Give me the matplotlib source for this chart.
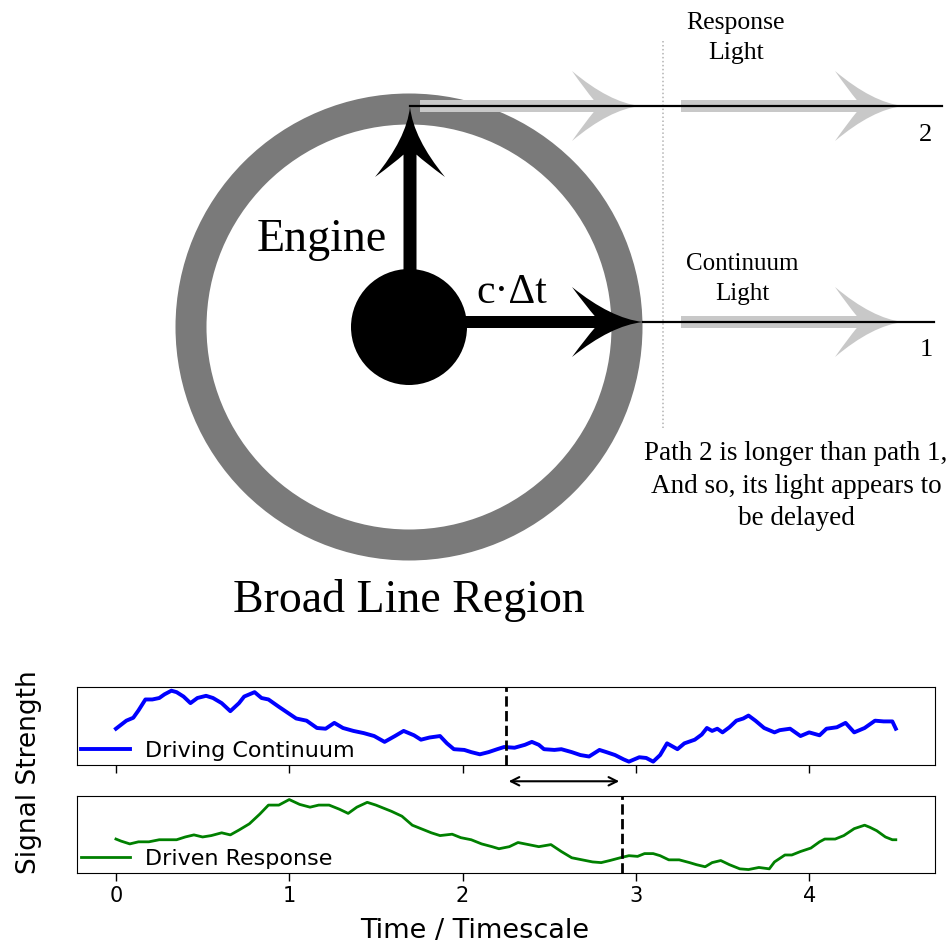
import matplotlib
matplotlib.use("Agg")
import matplotlib.pyplot as plt
import numpy as np
from matplotlib.patches import Circle, PathPatch
from matplotlib.path import Path

# driving continuum light curve (time / timescale, arbitrary flux)
cont_t = [0.00, 0.06, 0.10, 0.13, 0.17, 0.21, 0.25, 0.28, 0.32, 0.35, 0.39, 0.43, 0.47, 0.52,
          0.56, 0.61, 0.66, 0.71, 0.74, 0.80, 0.84, 0.88, 0.94, 0.99, 1.04, 1.10, 1.16, 1.21,
          1.26, 1.31, 1.37, 1.43, 1.49, 1.55, 1.61, 1.66, 1.72, 1.76, 1.81, 1.87, 1.91, 1.95,
          2.01, 2.05, 2.10, 2.15, 2.20, 2.24, 2.30, 2.36, 2.40, 2.44, 2.47, 2.53, 2.57, 2.63,
          2.68, 2.73, 2.79, 2.83, 2.88, 2.93, 2.96, 3.02, 3.06, 3.10, 3.14, 3.18, 3.24, 3.28,
          3.34, 3.38, 3.41, 3.44, 3.47, 3.50, 3.54, 3.58, 3.62, 3.65, 3.69, 3.74, 3.80, 3.83,
          3.89, 3.95, 4.00, 4.06, 4.10, 4.16, 4.21, 4.26, 4.32, 4.38, 4.43, 4.48, 4.50]
cont_f = [0.49, 0.60, 0.64, 0.74, 0.89, 0.89, 0.91, 0.96, 1.01, 0.99, 0.93, 0.84, 0.91, 0.94,
          0.91, 0.84, 0.73, 0.84, 0.93, 0.99, 0.91, 0.89, 0.79, 0.71, 0.63, 0.60, 0.50, 0.49,
          0.57, 0.50, 0.46, 0.43, 0.39, 0.31, 0.39, 0.46, 0.40, 0.34, 0.37, 0.39, 0.29, 0.21,
          0.20, 0.17, 0.14, 0.17, 0.21, 0.24, 0.23, 0.27, 0.31, 0.27, 0.21, 0.20, 0.21, 0.17,
          0.13, 0.11, 0.20, 0.17, 0.13, 0.07, 0.04, 0.10, 0.09, 0.04, 0.13, 0.29, 0.21, 0.29,
          0.34, 0.41, 0.50, 0.46, 0.49, 0.44, 0.51, 0.60, 0.63, 0.67, 0.60, 0.50, 0.44, 0.47,
          0.49, 0.39, 0.44, 0.40, 0.49, 0.51, 0.57, 0.44, 0.50, 0.60, 0.59, 0.59, 0.49]

# driven (delayed, smoothed) response
resp_t = [0.00, 0.03, 0.08, 0.13, 0.19, 0.25, 0.30, 0.35, 0.40, 0.45, 0.50, 0.55, 0.61, 0.66,
          0.71, 0.77, 0.83, 0.88, 0.94, 1.00, 1.06, 1.12, 1.17, 1.23, 1.29, 1.34, 1.39, 1.45,
          1.50, 1.59, 1.65, 1.71, 1.76, 1.82, 1.87, 1.94, 1.99, 2.05, 2.11, 2.17, 2.21, 2.27,
          2.32, 2.38, 2.44, 2.51, 2.57, 2.63, 2.69, 2.75, 2.80, 2.85, 2.91, 2.96, 3.01, 3.05,
          3.10, 3.14, 3.19, 3.25, 3.31, 3.35, 3.40, 3.44, 3.49, 3.54, 3.60, 3.65, 3.71, 3.77,
          3.80, 3.86, 3.90, 3.95, 4.01, 4.06, 4.09, 4.15, 4.20, 4.26, 4.32, 4.35, 4.39, 4.44,
          4.48, 4.50]
resp_f = [0.44, 0.41, 0.37, 0.40, 0.40, 0.43, 0.43, 0.43, 0.47, 0.50, 0.47, 0.49, 0.53, 0.50,
          0.57, 0.66, 0.80, 0.93, 0.93, 1.01, 0.94, 0.90, 0.93, 0.93, 0.87, 0.81, 0.90, 0.97,
          0.93, 0.84, 0.77, 0.64, 0.59, 0.53, 0.49, 0.51, 0.46, 0.43, 0.37, 0.33, 0.30, 0.33,
          0.39, 0.36, 0.33, 0.36, 0.26, 0.17, 0.14, 0.11, 0.10, 0.13, 0.17, 0.20, 0.19, 0.23,
          0.23, 0.20, 0.14, 0.14, 0.10, 0.07, 0.04, 0.10, 0.13, 0.07, 0.01, 0.00, 0.03, 0.01,
          0.11, 0.21, 0.21, 0.26, 0.31, 0.40, 0.44, 0.44, 0.49, 0.59, 0.64, 0.61, 0.56, 0.47,
          0.43, 0.43]

lag_start = 2.25   # marker in the continuum
lag_end = 2.92     # same feature in the response
x_ticks = [0, 1, 2, 3, 4]

serif = ["Liberation Serif", "DejaVu Serif"]
px = 0.72  # points per pixel at dpi 100


def curly_arrow(x0, y0, x1, y1, head_len, head_w, shaft_w):
    # arrow with swept-back concave head, in data coords
    d = np.array([x1 - x0, y1 - y0], float)
    n = np.hypot(*d)
    u = d / n
    v = np.array([-u[1], u[0]])
    L, W, s = head_len, head_w / 2, shaft_w / 2
    loc = [(0, 0), (-0.45 * L, 0.10 * W), (-L, W), (-0.8 * L, 0.45 * W), (-0.68 * L, s),
           (-n, s), (-n, -s), (-0.68 * L, -s), (-0.8 * L, -0.45 * W), (-L, -W),
           (-0.45 * L, -0.10 * W), (0, 0), (0, 0)]
    codes = [Path.MOVETO, Path.CURVE3, Path.CURVE3, Path.CURVE3, Path.CURVE3,
             Path.LINETO, Path.LINETO, Path.LINETO, Path.CURVE3, Path.CURVE3,
             Path.CURVE3, Path.CURVE3, Path.CLOSEPOLY]
    tip = np.array([x1, y1], float)
    pts = [tip + a * u + b * v for a, b in loc]
    return Path(pts, codes)


fig = plt.figure(figsize=(9.5, 9.47), dpi=100)

# ---- schematic (drawn in pixel units) ----
ax0 = fig.add_axes([0, 0, 1, 1])
ax0.set_xlim(0, 950)
ax0.set_ylim(947, 0)
ax0.axis("off")

cx, cy = 409, 327
ax0.add_patch(Circle((cx, cy), 218, fill=False, ec="#7a7a7a", lw=31 * px, zorder=1))
ax0.add_patch(Circle((cx, cy), 58, fc="black", ec="none", zorder=4))

light = "#c8c8c8"
for (xa, ya, xb, yb) in [(420, 106, 640, 106), (681, 106, 903, 106), (681, 322, 903, 322)]:
    ax0.add_patch(PathPatch(curly_arrow(xa, ya, xb, yb, 68, 70, 12), fc=light, ec="none", zorder=2))

# light paths
ax0.plot([410, 942], [106, 106], color="black", lw=2.2 * px, zorder=3)
ax0.plot([643, 934], [322, 322], color="black", lw=2.2 * px, zorder=3)
ax0.plot([663, 663], [41, 428], color="#b0b0b0", lw=1.5 * px, ls=":", zorder=1)

ax0.add_patch(PathPatch(curly_arrow(410, 275, 410, 107, 70, 70, 13), fc="black", ec="none", zorder=5))
ax0.add_patch(PathPatch(curly_arrow(460, 322, 643, 322, 71, 70, 12), fc="black", ec="none", zorder=5))

ax0.text(322, 240, "Engine", family=serif, fontsize=33, ha="center", va="center")
ax0.text(512, 293, "c·Δt", family=serif, fontsize=30, ha="center", va="center")
ax0.text(409, 600, "Broad Line Region", family=serif, fontsize=33, ha="center", va="center")
ax0.text(736, 38, "Response\nLight", family=serif, fontsize=18.5, ha="center", va="center",
         linespacing=1.5)
ax0.text(742, 279, "Continuum\nLight", family=serif, fontsize=18, ha="center", va="center",
         linespacing=1.5)
ax0.text(926, 135, "2", family=serif, fontsize=19, ha="center", va="center")
ax0.text(926, 350, "1", family=serif, fontsize=19, ha="center", va="center")
ax0.text(796, 486, "Path 2 is longer than path 1,\nAnd so, its light appears to\nbe delayed",
         family=serif, fontsize=19.5, ha="center", va="center", linespacing=1.4)

# ---- light curves ----
ax1 = fig.add_axes([0.081, 0.192, 0.903, 0.0824])
ax2 = fig.add_axes([0.081, 0.0781, 0.903, 0.0813], sharex=ax1)

ax1.plot(cont_t, cont_f, color="blue", lw=2.8, label="Driving Continuum")
ax2.plot(resp_t, resp_f, color="green", lw=2.0, label="Driven Response")
ax1.axvline(lag_start, color="black", ls="--", lw=2)
ax2.axvline(lag_end, color="black", ls="--", lw=2)

for ax in (ax1, ax2):
    ax.set_yticks([])
    ax.tick_params(axis="x", length=6, width=1, labelsize=15)
    ax.legend(loc="lower left", frameon=False, fontsize=16, borderaxespad=0.0,
              handlelength=2.2, handletextpad=0.65, borderpad=0.2)
ax1.tick_params(axis="x", labelbottom=False)
ax2.set_xticks(x_ticks)

ax1.annotate("", xy=(lag_end, 0.175), xytext=(lag_start, 0.175),
             xycoords=("data", "figure fraction"), textcoords=("data", "figure fraction"),
             arrowprops=dict(arrowstyle="<->", lw=1.5, color="black", mutation_scale=15),
             annotation_clip=False)

fig.text(0.5, 1 - 931 / 947, "Time / Timescale", ha="center", va="center", fontsize=19.5)
fig.text(0.031, 1 - 772 / 947, "Signal Strength", rotation=90, ha="center", va="center",
         fontsize=19)

fig.savefig("out.png", dpi=100)
